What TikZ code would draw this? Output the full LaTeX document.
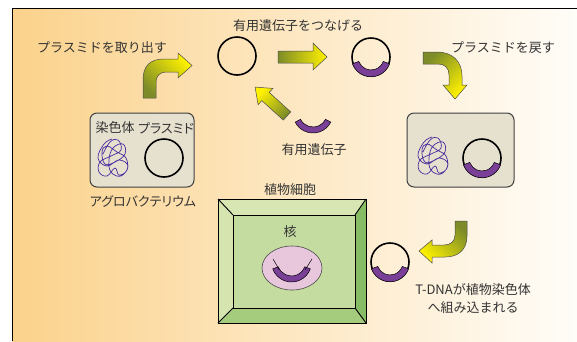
\documentclass[tikz,border=0pt]{standalone}
\usepackage{fontspec}
\setmainfont{Noto Sans CJK JP}
\newfontfamily\kanafont{Noto Sans CJK JP}[RawFeature=+palt]
\usetikzlibrary{shapes.geometric}

\definecolor{bgleft}{HTML}{FBD28C}
\definecolor{bgright}{HTML}{FFFDF9}
\definecolor{olive}{HTML}{7D8C28}
\definecolor{lemon}{HTML}{FFF200}
\definecolor{genepurple}{HTML}{7A3F96}
\definecolor{chromopurple}{HTML}{4B2C9E}
\definecolor{boxfill}{HTML}{E6E0CF}
\definecolor{txtgray}{HTML}{333333}
\definecolor{celltop}{HTML}{D8E6B4}
\definecolor{cellleft}{HTML}{D6E4B0}
\definecolor{cellright}{HTML}{86BC64}
\definecolor{cellbottom}{HTML}{A5CB7D}
\definecolor{cellinner}{HTML}{C5DCA0}
\definecolor{nucpink}{HTML}{E8C6DC}

\tikzset{
  txt/.style={font=\fontsize{13}{15}\selectfont, text=txtgray, inner sep=0pt},
  plasmid/.style={draw=black, circle, line width=1.6pt, minimum size=38pt, inner sep=0pt},
  gene/.style={fill=genepurple, draw=black, line width=0.5pt},
  bugbox/.style={draw=black!75, fill=boxfill, line width=1pt, rounded corners=7pt},
  blockarrow/.style={draw=black!70, line width=0.5pt},
  chromo/.style={draw=chromopurple, line width=0.7pt},
}

\begin{document}
\begin{tikzpicture}[x=1pt, y=-1pt]
  \useasboundingbox (0,0) rectangle (577,341);

  % panel
  \shade[left color=bgleft, right color=bgright] (12,8) rectangle (577,341);
  \draw[line width=1pt] (12,341) -- (12,8) -- (577,8);

  % block arrows
  \shade[blockarrow, top color=olive, bottom color=lemon, shading angle=135]
    (143,98) -- (143,80) .. controls (143,66) and (150,59) .. (164,59)
    -- (178,59) -- (178,53) -- (192,65.5) -- (178,78) -- (178,72) -- (166,72)
    .. controls (160,72) and (156,76) .. (156,82) -- (156,98) -- cycle;
  \shade[blockarrow, left color=olive, right color=lemon]
    (278,51) -- (313,51) -- (313,43) -- (327,57) -- (313,70) -- (313,63) -- (278,63) -- cycle;
  \shade[blockarrow, top color=olive, bottom color=lemon, shading angle=45]
    (423,52) -- (437,52) .. controls (453,52) and (462,62) .. (462,76)
    -- (462,85) -- (467,85) -- (455,99) -- (443,85) -- (449,85) -- (449,75)
    .. controls (449,68) and (445,64) .. (438,64) -- (423,64) -- cycle;
  \shade[blockarrow, top color=lemon, bottom color=olive, shading angle=45]
    (290.7,111.9) -- (269.2,92.4) -- (272.9,88.4) -- (255.1,87.1)
    -- (258.1,104.7) -- (261.8,100.6) -- (283.3,120.1) -- cycle;
  \shade[blockarrow, top color=olive, bottom color=lemon, shading angle=-45]
    (455,221) -- (467,221) -- (467,236) .. controls (467,250) and (458,257) .. (445,257)
    -- (432,257) -- (432,263) -- (419,251) -- (432,240) -- (432,245) -- (444,245)
    .. controls (451,245) and (455,241) .. (455,235) -- cycle;

  % captions
  \node[txt] (takeout) at (102,48) {プラスミドを取り出す};
  \node[txt] (ligate) at (298,26) {有用遺伝子をつなげる};
  \node[txt] (putback) at (503,48) {プラスミドを戻す};
  \node[txt] (genelbl) at (314,150) {有用遺伝子};
  \node[txt] (agrolbl) at (143,201) {\kanafont アグロバクテリウム};
  \node[txt] (celllbl) at (290,190) {植物細胞};
  \node[txt, align=center, font=\fontsize{13}{18}\selectfont] (tdna) at (473,299)
    {T-DNAが植物染色体\\へ組み込まれる};

  % plasmids
  \node[plasmid] (p1) at (237,56) {};
  \node[plasmid] (p2) at (371,57) {};
  \node[plasmid] (p3) at (390,262) {};

  % gene fragment
  \draw[gene] (313,113) ++(27:20) arc[start angle=27, end angle=153, radius=20]
    -- ++(333:6) arc[start angle=153, end angle=27, radius=14] -- cycle;

  % agrobacterium before and after
  \node[bugbox, minimum width=104pt, minimum height=74pt] (agro) at (142,150) {};
  \node[bugbox, minimum width=107pt, minimum height=74pt] (agro2) at (460.5,150) {};
  \node[txt] (chrlbl) at (115,128) {染色体};
  \node[txt] (plslbl) at (166,128) {\kanafont プラスミド};
  \node[plasmid] (p0) at (164,158) {};
  \node[plasmid] (p4) at (482,158) {};

  \foreach \cx/\cy in {113/158, 433/156} {
    \begin{scope}[shift={(\cx,\cy)}]
      \draw[chromo] plot[smooth, tension=0.7] coordinates {
        (-10,-4) (-3,-16) (5,-18) (8,-8) (-2,-2) (-13,4) (-14,14) (-6,18)
        (2,10) (6,17) (14,12) (13,0) (4,-6) (-6,-12) (-11,-6) (-8,6) (2,4)
        (12,-4) (10,-14) (0,-10) (-4,2) (-2,14) (8,18) (15,8) (6,2) (-6,8)
        (-15,0) (-9,-14) (-1,-19)};
    \end{scope}
  }

  % inserted genes
  \foreach \p in {p2, p3, p4} {
    \draw[gene] (\p.center) ++(20:19.8) arc[start angle=20, end angle=160, radius=19.8]
      -- ++(340:6.8) arc[start angle=160, end angle=20, radius=13] -- cycle;
  }

  % plant cell
  \fill[celltop] (218,199) -- (366,199) -- (355,215) -- (233,215) -- cycle;
  \fill[cellleft] (218,199) -- (233,215) -- (233,308) -- (218,323) -- cycle;
  \fill[cellright] (366,199) -- (366,323) -- (355,308) -- (355,215) -- cycle;
  \fill[cellbottom] (218,323) -- (233,308) -- (355,308) -- (366,323) -- cycle;
  \fill[cellinner] (233,215) rectangle (355,308);
  \draw[line width=0.9pt] (218,199) rectangle (366,323);
  \draw[line width=0.9pt] (233,215) rectangle (355,308);
  \draw[line width=0.9pt] (218,199) -- (233,215) (366,199) -- (355,215)
    (218,323) -- (233,308) (366,323) -- (355,308);

  % nucleus with the gene on its chromosome
  \node[txt] (nuclbl) at (290,232) {核};
  \node[draw=black!70, fill=nucpink, ellipse, line width=0.6pt,
        minimum width=60pt, minimum height=44pt] (nucleus) at (292,268) {};
  \draw[gene] (291.5,262) ++(20:20) arc[start angle=20, end angle=160, radius=20]
    -- ++(340:6) arc[start angle=160, end angle=20, radius=14] -- cycle;
  \draw[line width=0.5pt] (273,259) -- (279.5,270) (312,259) -- (305,270);
\end{tikzpicture}
\end{document}
